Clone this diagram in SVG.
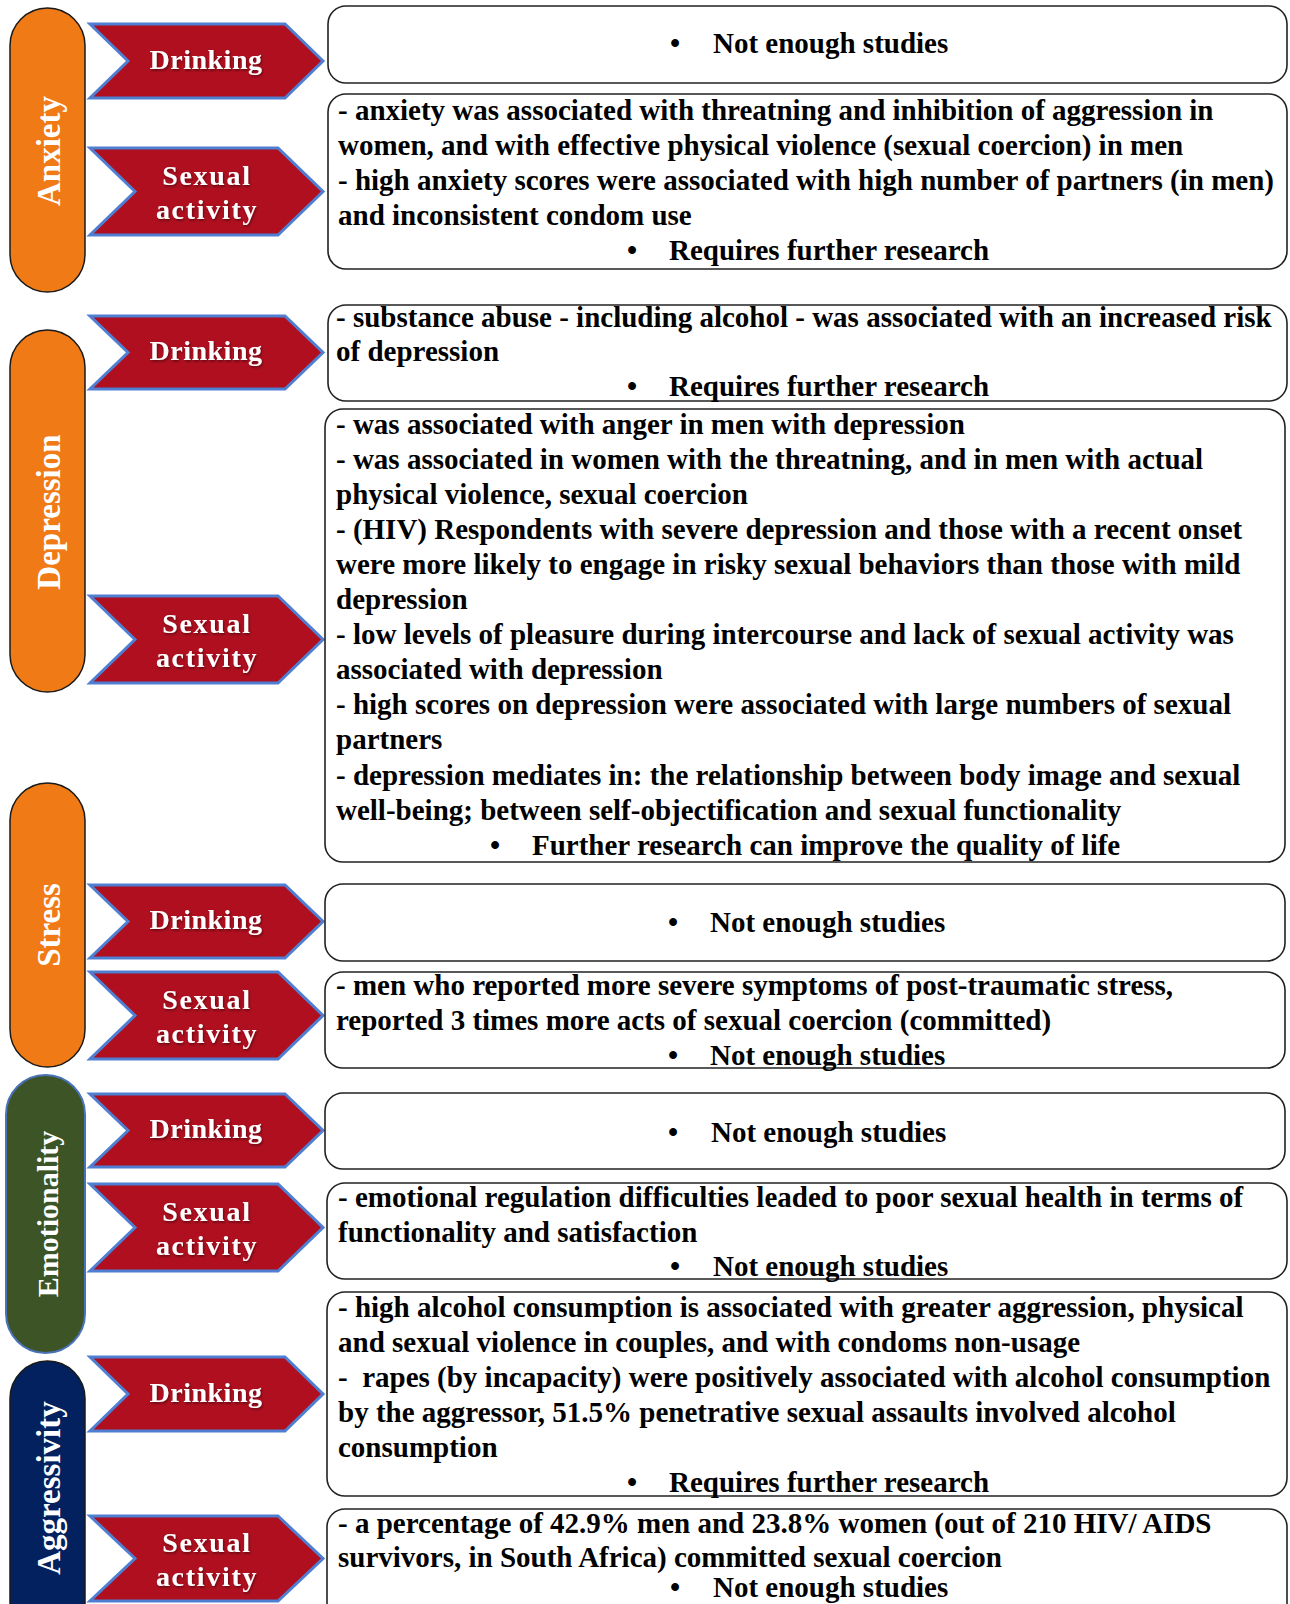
<svg xmlns="http://www.w3.org/2000/svg" width="1290" height="1604" viewBox="0 0 1290 1604">
<style>
.bg{fill:#ffffff}
.pill{fill:#F07A16;stroke:#1a1a1a;stroke-width:1.5}
.pill-emo{fill:#3C5426;stroke:#4A72B8;stroke-width:2}
.pill-agg{fill:#02215E;stroke:#1a1a1a;stroke-width:1.5}
.ptxt{font-family:"Liberation Serif","Times New Roman",serif;font-weight:bold;font-size:33px;fill:#ffffff;text-anchor:middle}
.chev{fill:#AF0F1F;stroke:#4F7FD2;stroke-width:3;stroke-linejoin:miter}
.ctxt{font-family:"Liberation Serif","Times New Roman",serif;font-weight:bold;font-size:28px;fill:#ffffff;text-anchor:middle;filter:url(#sh)}
.drk{letter-spacing:0.5px}
.sx{letter-spacing:1.7px}
.box{fill:#ffffff;stroke:#222222;stroke-width:1.6}
.t{font-family:"Liberation Serif","Times New Roman",serif;font-weight:bold;font-size:29px;fill:#000000}
</style>
<defs>
<filter id="sh" x="-10%" y="-20%" width="120%" height="150%">
<feDropShadow dx="1" dy="1.5" stdDeviation="0.8" flood-color="#000000" flood-opacity="0.45"/>
</filter>
</defs>
<rect class="bg" x="0" y="0" width="1290" height="1604"/>

<g id="anxiety">
<rect class="pill" x="10" y="8" width="75" height="284" rx="37.5" ry="37.5"/>
<text class="ptxt" transform="translate(60,151) rotate(-90)">Anxiety</text>
</g>
<g id="depression">
<rect class="pill" x="10" y="330" width="75" height="362" rx="37.5" ry="37.5"/>
<text class="ptxt" transform="translate(60,512) rotate(-90)">Depression</text>
</g>
<g id="stress">
<rect class="pill" x="10" y="783" width="75" height="284" rx="37.5" ry="37.5"/>
<text class="ptxt" transform="translate(60,925) rotate(-90)">Stress</text>
</g>
<g id="emotionality">
<rect class="pill-emo" x="6" y="1075" width="79" height="278" rx="39.5" ry="39.5"/>
<text class="ptxt" style="font-size:30px" transform="translate(58,1214) rotate(-90)">Emotionality</text>
</g>
<g id="aggressivity">
<rect class="pill-agg" x="10" y="1361" width="75" height="300" rx="37.5" ry="37.5"/>
<text class="ptxt" transform="translate(60,1488) rotate(-90)">Aggressivity</text>
</g>

<g id="connectors"></g>

<g id="anx-drinking">
<path class="chev" d="M90,24 L285,24 L323,61 L285,98 L90,98 L128,61 Z"/>
<text class="ctxt drk" x="206" y="69">Drinking</text>
</g>
<g id="anx-sexual">
<path class="chev" d="M90,148 L278,148 L323,191.5 L278,235 L90,235 L135,191.5 Z"/>
<text class="ctxt sx" x="207" y="185">Sexual</text>
<text class="ctxt sx" x="207" y="219">activity</text>
</g>
<g id="dep-drinking">
<path class="chev" d="M90,316 L285,316 L323,352.5 L285,389 L90,389 L128,352.5 Z"/>
<text class="ctxt drk" x="206" y="360">Drinking</text>
</g>
<g id="dep-sexual">
<path class="chev" d="M90,596 L278,596 L323,639.5 L278,683 L90,683 L135,639.5 Z"/>
<text class="ctxt sx" x="207" y="633">Sexual</text>
<text class="ctxt sx" x="207" y="667">activity</text>
</g>
<g id="str-drinking">
<path class="chev" d="M90,885 L285,885 L323,921.5 L285,958 L90,958 L128,921.5 Z"/>
<text class="ctxt drk" x="206" y="929">Drinking</text>
</g>
<g id="str-sexual">
<path class="chev" d="M90,972 L278,972 L323,1015.5 L278,1059 L90,1059 L135,1015.5 Z"/>
<text class="ctxt sx" x="207" y="1009">Sexual</text>
<text class="ctxt sx" x="207" y="1043">activity</text>
</g>
<g id="emo-drinking">
<path class="chev" d="M90,1094 L285,1094 L323,1130.5 L285,1167 L90,1167 L128,1130.5 Z"/>
<text class="ctxt drk" x="206" y="1138">Drinking</text>
</g>
<g id="emo-sexual">
<path class="chev" d="M90,1184 L278,1184 L323,1227.5 L278,1271 L90,1271 L135,1227.5 Z"/>
<text class="ctxt sx" x="207" y="1221">Sexual</text>
<text class="ctxt sx" x="207" y="1255">activity</text>
</g>
<g id="agg-drinking">
<path class="chev" d="M90,1357 L285,1357 L323,1394 L285,1431 L90,1431 L128,1394 Z"/>
<text class="ctxt drk" x="206" y="1402">Drinking</text>
</g>
<g id="agg-sexual">
<path class="chev" d="M90,1516 L278,1516 L323,1558.5 L278,1601 L90,1601 L135,1558.5 Z"/>
<text class="ctxt sx" x="207" y="1552">Sexual</text>
<text class="ctxt sx" x="207" y="1586">activity</text>
</g>

<g id="box-anx-drinking">
<rect class="box" x="328" y="6" width="959" height="77" rx="18" ry="18"/>
<text class="t" x="670" y="53">•</text>
<text class="t" x="713" y="53">Not enough studies</text>
</g>
<g id="box-anx-sexual">
<rect class="box" x="328" y="94" width="959" height="175" rx="18" ry="18"/>
<text class="t" x="338" y="120">- anxiety was associated with threatning and inhibition of aggression in</text>
<text class="t" x="338" y="155">women, and with effective physical violence (sexual coercion) in men</text>
<text class="t" x="338" y="190">- high anxiety scores were associated with high number of partners (in men)</text>
<text class="t" x="338" y="225">and inconsistent condom use</text>
<text class="t" x="627" y="260">•</text>
<text class="t" x="669" y="260">Requires further research</text>
</g>
<g id="box-dep-drinking">
<rect class="box" x="328" y="305" width="959" height="96" rx="18" ry="18"/>
<text class="t" x="336" y="327">- substance abuse - including alcohol - was associated with an increased risk</text>
<text class="t" x="336" y="361">of depression</text>
<text class="t" x="627" y="396">•</text>
<text class="t" x="669" y="396">Requires further research</text>
</g>
<g id="box-dep-sexual">
<rect class="box" x="325" y="409" width="960" height="453" rx="18" ry="18"/>
<text class="t" x="336" y="433.5">- was associated with anger in men with depression</text>
<text class="t" x="336" y="468.6">- was associated in women with the threatning, and in men with actual</text>
<text class="t" x="336" y="503.7">physical violence, sexual coercion</text>
<text class="t" x="336" y="538.8">- (HIV) Respondents with severe depression and those with a recent onset</text>
<text class="t" x="336" y="573.9">were more likely to engage in risky sexual behaviors than those with mild</text>
<text class="t" x="336" y="609">depression</text>
<text class="t" x="336" y="644.1">- low levels of pleasure during intercourse and lack of sexual activity was</text>
<text class="t" x="336" y="679.2">associated with depression</text>
<text class="t" x="336" y="714.3">- high scores on depression were associated with large numbers of sexual</text>
<text class="t" x="336" y="749.4">partners</text>
<text class="t" x="336" y="784.5">- depression mediates in: the relationship between body image and sexual</text>
<text class="t" x="336" y="819.6">well-being; between self-objectification and sexual functionality</text>
<text class="t" x="490" y="854.7">•</text>
<text class="t" x="532" y="854.7">Further research can improve the quality of life</text>
</g>
<g id="box-str-drinking">
<rect class="box" x="325" y="884" width="960" height="77" rx="18" ry="18"/>
<text class="t" x="668" y="932">•</text>
<text class="t" x="710" y="932">Not enough studies</text>
</g>
<g id="box-str-sexual">
<rect class="box" x="325" y="972" width="960" height="96" rx="18" ry="18"/>
<text class="t" x="336" y="995">- men who reported more severe symptoms of post-traumatic stress,</text>
<text class="t" x="336" y="1030">reported 3 times more acts of sexual coercion (committed)</text>
<text class="t" x="668" y="1065">•</text>
<text class="t" x="710" y="1065">Not enough studies</text>
</g>
<g id="box-emo-drinking">
<rect class="box" x="325" y="1093" width="960" height="76" rx="18" ry="18"/>
<text class="t" x="668" y="1142">•</text>
<text class="t" x="711" y="1142">Not enough studies</text>
</g>
<g id="box-emo-sexual">
<rect class="box" x="327" y="1183" width="960" height="96" rx="18" ry="18"/>
<text class="t" x="338" y="1207">- emotional regulation difficulties leaded to poor sexual health in terms of</text>
<text class="t" x="338" y="1242">functionality and satisfaction</text>
<text class="t" x="670" y="1276">•</text>
<text class="t" x="713" y="1276">Not enough studies</text>
</g>
<g id="box-agg-drinking">
<rect class="box" x="327" y="1292" width="960" height="204" rx="18" ry="18"/>
<text class="t" x="338" y="1317">- high alcohol consumption is associated with greater aggression, physical</text>
<text class="t" x="338" y="1352">and sexual violence in couples, and with condoms non-usage</text>
<text class="t" x="338" y="1387" xml:space="preserve">-  rapes (by incapacity) were positively associated with alcohol consumption</text>
<text class="t" x="338" y="1422">by the aggressor, 51.5% penetrative sexual assaults involved alcohol</text>
<text class="t" x="338" y="1457">consumption</text>
<text class="t" x="627" y="1492">•</text>
<text class="t" x="669" y="1492">Requires further research</text>
</g>
<g id="box-agg-sexual">
<rect class="box" x="327" y="1509" width="960" height="120" rx="18" ry="18"/>
<text class="t" x="338" y="1533">- a percentage of 42.9% men and 23.8% women (out of 210 HIV/ AIDS</text>
<text class="t" x="338" y="1567">survivors, in South Africa) committed sexual coercion</text>
<text class="t" x="670" y="1597">•</text>
<text class="t" x="713" y="1597">Not enough studies</text>
</g>
</svg>
